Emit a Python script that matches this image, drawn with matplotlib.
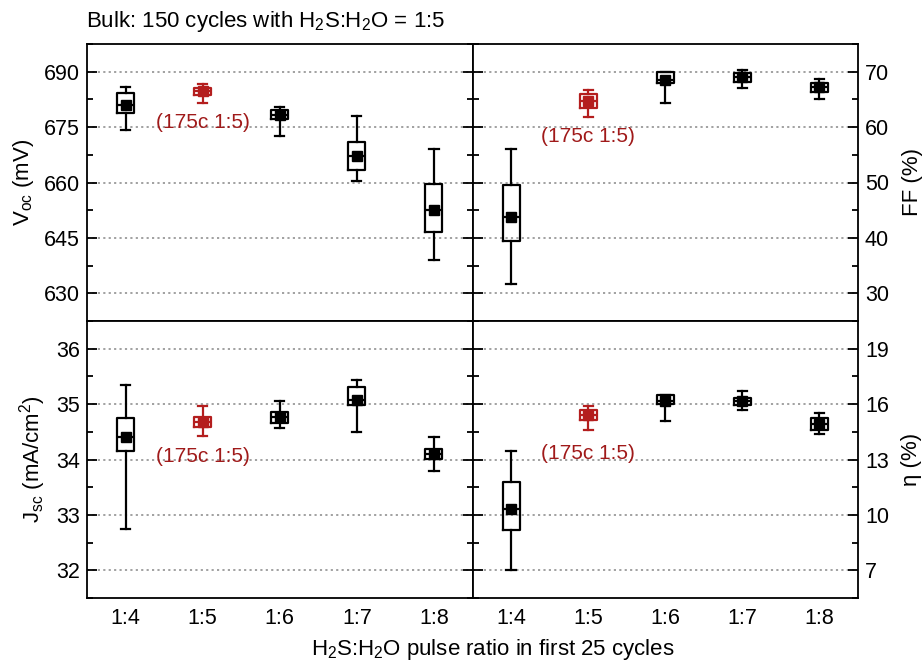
import matplotlib
matplotlib.use('Agg')
import matplotlib.pyplot as plt
from matplotlib.ticker import AutoMinorLocator

plt.rcParams['font.family'] = ['Liberation Sans', 'DejaVu Sans']
plt.rcParams['mathtext.default'] = 'regular'

ratios = ['1:4', '1:5', '1:6', '1:7', '1:8']

voc_whishi = [685.8, 686.7, 680.5, 678.0, 669.2]
voc_q3 = [684.3, 685.7, 679.5, 671.0, 659.7]
voc_mean = [680.9, 684.9, 678.4, 667.3, 652.5]
voc_q1 = [678.9, 683.8, 677.3, 663.5, 646.5]
voc_whislo = [674.2, 681.4, 672.5, 660.3, 639.0]

ff_whishi = [56.1, 66.7, 70.0, 70.3, 68.7]
ff_q3 = [49.5, 65.9, 70.0, 69.7, 68.0]
ff_mean = [43.8, 64.8, 68.5, 69.0, 67.2]
ff_q1 = [39.4, 63.4, 68.0, 68.2, 66.3]
ff_whislo = [31.7, 61.8, 64.3, 67.0, 65.1]

jsc_whishi = [35.35, 34.96, 35.06, 35.43, 34.40]
jsc_q3 = [34.75, 34.76, 34.86, 35.30, 34.19]
jsc_mean = [34.40, 34.68, 34.77, 35.08, 34.10]
jsc_q1 = [34.16, 34.59, 34.66, 34.99, 34.01]
jsc_whislo = [32.74, 34.43, 34.57, 34.50, 33.80]

eta_whishi = [13.47, 15.92, 16.48, 16.73, 15.50]
eta_q3 = [11.77, 15.70, 16.48, 16.34, 15.23]
eta_mean = [10.30, 15.43, 16.15, 16.15, 14.94]
eta_q1 = [9.16, 15.12, 16.00, 15.94, 14.61]
eta_whislo = [7.00, 14.58, 15.10, 15.70, 14.36]

box_colors = ['black', '#b41e1e', 'black', 'black', 'black']
note_color = '#a01a1a'
note_text = '(175c 1:5)'

fig = plt.figure(figsize=(9.22, 6.66), dpi=100)
gs = fig.add_gridspec(2, 2, left=87/922, right=858/922, top=1-44/666,
                      bottom=1-598/666, hspace=0, wspace=0)

panels = [
    dict(pos=(0, 0), data=(voc_whislo, voc_q1, voc_mean, voc_q3, voc_whishi),
         ylim=(622.5, 697.5), ticks=[630, 645, 660, 675, 690],
         label='V$_{oc}$ (mV)', side='left', note_y=676.2),
    dict(pos=(0, 1), data=(ff_whislo, ff_q1, ff_mean, ff_q3, ff_whishi),
         ylim=(25, 75), ticks=[30, 40, 50, 60, 70],
         label='FF (%)', side='right', note_y=58.3),
    dict(pos=(1, 0), data=(jsc_whislo, jsc_q1, jsc_mean, jsc_q3, jsc_whishi),
         ylim=(31.5, 36.5), ticks=[32, 33, 34, 35, 36],
         label='J$_{sc}$ (mA/cm$^2$)', side='left', note_y=34.05),
    dict(pos=(1, 1), data=(eta_whislo, eta_q1, eta_mean, eta_q3, eta_whishi),
         ylim=(5.5, 20.5), ticks=[7, 10, 13, 16, 19],
         label='η (%)', side='right', note_y=13.35),
]

positions = list(range(1, len(ratios) + 1))

for p in panels:
    ax = fig.add_subplot(gs[p['pos']])
    lo, q1, mn, q3, hi = p['data']
    for i, x in enumerate(positions):
        c = box_colors[i]
        stats = [dict(whislo=lo[i], q1=q1[i], med=mn[i], q3=q3[i],
                      whishi=hi[i], mean=mn[i])]
        ax.bxp(stats, positions=[x], widths=0.22, capwidths=0.12,
               showmeans=True, showfliers=False,
               boxprops=dict(color=c, linewidth=1.6),
               whiskerprops=dict(color=c, linewidth=1.6),
               capprops=dict(color=c, linewidth=1.6),
               medianprops=dict(color=c, linewidth=1.6),
               meanprops=dict(marker='s', markerfacecolor=c,
                              markeredgecolor=c, markersize=6.5),
               zorder=3)
    ax.set_xlim(0.5, 5.5)
    ax.set_ylim(*p['ylim'])
    ax.set_yticks(p['ticks'])
    ax.yaxis.set_minor_locator(AutoMinorLocator(2))
    ax.grid(axis='y', which='major', linestyle=(0, (1.2, 1.8)),
            color='#9a9a9a', linewidth=1.3, zorder=0)
    ax.set_axisbelow(True)
    for s in ax.spines.values():
        s.set_linewidth(1.3)
    ax.tick_params(axis='y', which='major', direction='in', length=7,
                   width=1.3, left=True, right=True, labelsize=15.5)
    ax.tick_params(axis='y', which='minor', direction='in', length=4,
                   width=1.3, left=True, right=True)
    ax.tick_params(axis='x', length=0, labelsize=15.5, pad=7)
    if p['side'] == 'left':
        ax.tick_params(axis='y', labelleft=True, labelright=False, pad=5)
        ax.set_ylabel(p['label'], fontsize=16, labelpad=6)
    else:
        ax.tick_params(axis='y', labelleft=False, labelright=True, pad=5)
        ax.yaxis.set_label_position('right')
        ax.set_ylabel(p['label'], fontsize=16, labelpad=9)
    ax.set_xticks(positions)
    if p['pos'][0] == 1:
        ax.set_xticklabels(ratios)
    else:
        ax.set_xticklabels([])
    ax.text(positions[1], p['note_y'], note_text, color=note_color,
            fontsize=15, ha='center', va='center', zorder=4)

fig.text(86/922, 1-22/666, 'Bulk: 150 cycles with H$_2$S:H$_2$O = 1:5',
         fontsize=16, ha='left', va='center')
fig.text(493/922, 1-650/666, 'H$_2$S:H$_2$O pulse ratio in first 25 cycles',
         fontsize=16, ha='center', va='center')

fig.savefig('out.png', dpi=100)
